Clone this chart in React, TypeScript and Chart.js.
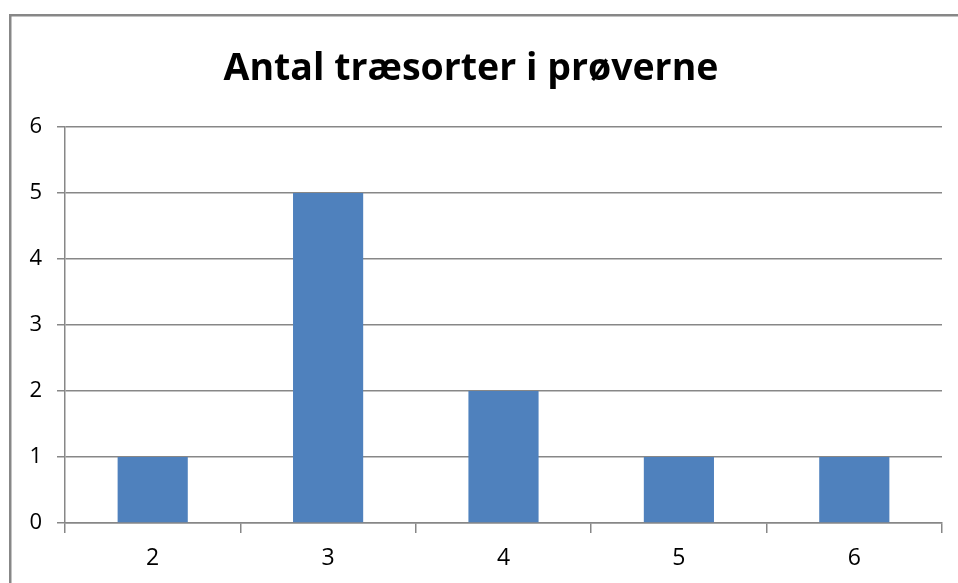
import React, { useEffect, useRef } from "react";
import { Chart, registerables } from "chart.js";

Chart.register(...registerables);

const categories = ["2", "3", "4", "5", "6"];
const counts = [1, 5, 2, 1, 1];
const titleText = "Antal træsorter i prøverne";
const yMin = 0;
const yMax = 6;
const yStep = 1;

const borderPlugin = {
  id: "outerBorder",
  beforeDraw(chart: any) {
    const ctx = chart.ctx;
    ctx.save();
    ctx.fillStyle = "#ffffff";
    ctx.fillRect(0, 0, chart.width, chart.height);
    ctx.strokeStyle = "#878787";
    ctx.lineWidth = 2.5;
    ctx.strokeRect(10.25, 15.25, chart.width + 20, chart.height + 20);
    ctx.restore();
  },
};

export default function App() {
  const ref = useRef<HTMLCanvasElement | null>(null);
  useEffect(() => {
    if (!ref.current) return;
    const chart = new Chart(ref.current, {
      type: "bar",
      data: {
        labels: categories,
        datasets: [
          {
            data: counts,
            backgroundColor: "#4F81BD",
            borderWidth: 0,
            categoryPercentage: 0.8,
            barPercentage: 0.5,
          },
        ],
      },
      options: {
        animation: false,
        responsive: false,
        devicePixelRatio: 1,
        layout: { padding: { left: 0, right: 16, top: 0, bottom: 0 } },
        plugins: {
          legend: { display: false },
          tooltip: { enabled: false },
          title: {
            display: true,
            text: titleText,
            color: "#000000",
            font: { family: "'Open Sans'", size: 37.5, weight: "bold", lineHeight: 1.2 },
            padding: { top: 46.5, bottom: 35.5 },
          },
        },
        scales: {
          x: {
            offset: true,
            grid: {
              offset: true,
              drawOnChartArea: false,
              drawTicks: true,
              tickLength: 10,
              color: "#878787",
              lineWidth: 1.5,
            },
            border: { color: "#878787", width: 1.5 },
            ticks: {
              color: "#000000",
              font: { family: "'Open Sans'", size: 23 },
              padding: 12,
            },
            afterFit: (scale: any) => {
              scale.height = 60;
            },
          },
          y: {
            min: yMin,
            max: yMax,
            ticks: {
              stepSize: yStep,
              color: "#000000",
              font: { family: "'Open Sans'", size: 22 },
              padding: 15,
            },
            grid: {
              color: "#878787",
              lineWidth: 1.5,
              tickLength: 8,
            },
            border: { color: "#878787", width: 1.5 },
            afterFit: (scale: any) => {
              scale.width = 65;
            },
          },
        },
      },
      plugins: [borderPlugin],
    });
    return () => chart.destroy();
  }, []);
  return (
    <div style={{ position: "fixed", left: 0, top: 0, width: 958, height: 583, background: "#fff" }}>
      <canvas ref={ref} width={958} height={583} style={{ display: "block" }} />
    </div>
  );
}
